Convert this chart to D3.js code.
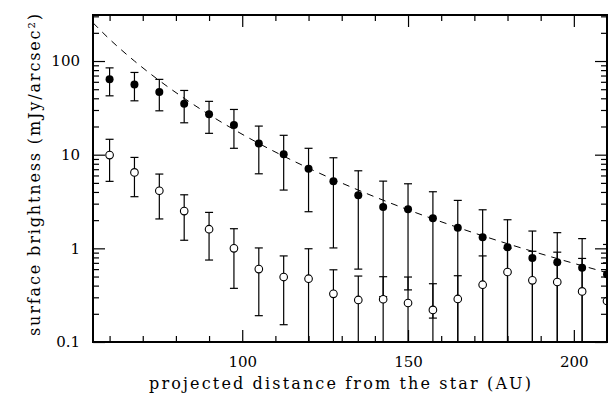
<!DOCTYPE html>
<html>
<head>
<meta charset="utf-8">
<script src="https://cdn.jsdelivr.net/npm/d3@7"></script>
<style>
html,body{margin:0;padding:0;background:#fff;}
svg{display:block;}
</style>
</head>
<body>
<script>
// ---- data ----
const distance = [60, 67.5, 75, 82.5, 90, 97.5, 105, 112.5, 120, 127.5, 135, 142.5, 150, 157.5, 165, 172.5, 180, 187.5, 195, 202.5, 210];

const filledVal = [64, 56, 46.6, 34.9, 27.1, 20.8, 13.2, 10.1, 7.08, 5.19, 3.68, 2.76, 2.62, 2.09, 1.66, 1.31, 1.03, 0.79, 0.71, 0.62, 0.53];
const filledHi  = [84.5, 75.5, 63.7, 48.5, 37.1, 30.4, 20.2, 16.1, 11.7, 9.27, 6.73, 5.22, 4.89, 4.02, 3.25, 2.58, 2.02, 1.53, 1.47, 1.27, 1.1];
const filledLo  = [42.5, 37.6, 29.4, 21.9, 16.9, 11.7, 6.25, 4.19, 2.46, 1.01, 0.6, 0.305, 0.36, 0.18, 0.07, 0.04, 0.04, 0.05, 0.02, 0.02, 0.02];

const hollowVal = [9.9, 6.47, 4.12, 2.5, 1.6, 1.0, 0.6, 0.494, 0.474, 0.327, 0.281, 0.286, 0.261, 0.22, 0.288, 0.409, 0.559, 0.455, 0.437, 0.347, 0.274];
const hollowHi  = [14.6, 9.35, 6.21, 3.73, 2.42, 1.62, 1.01, 0.83, 0.99, 0.59, 0.506, 0.498, 0.494, 0.419, 0.51, 0.83, 1.0, 0.93, 0.91, 0.78, 0.7];
const hollowLo  = [5.19, 3.56, 2.06, 1.22, 0.75, 0.374, 0.191, 0.153, 0.02, 0.06, 0.05, 0.07, 0.03, 0.03, 0.06, 0.02, 0.1, 0.02, 0.02, 0.02, 0.02];

// dashed model curve
const modelDist = [55, 60, 67.5, 75, 82.5, 90, 105, 120, 135, 150, 165, 180, 195, 210];
const modelVal  = [256, 171, 100, 61.8, 40, 26.8, 13.2, 7.18, 4.19, 2.58, 1.67, 1.12, 0.777, 0.55];

const xMinorTicks = [60, 70, 80, 90, 110, 120, 130, 140, 160, 170, 180, 190];
const xMajorTicks = [100, 150, 200];
const yMajorTicks = [0.1, 1, 10, 100];
const yMajorLabels = ["0.1", "1", "10", "100"];
const xTitle = "projected distance from the star (AU)";
const yTitle = "surface brightness (mJy/arcsec\u00B2)";

// ---- layout ----
const W = 614, H = 399;
const L = 93, R = 607, T = 15, B = 342;
const FONT = "'DejaVu Serif', serif";

const svg = d3.select("body").append("svg").attr("width", W).attr("height", H);

const x = d3.scaleLinear().domain([55, 210]).range([L, R]);
const y = d3.scaleLog().domain([0.1, 310]).range([B, T]);

const yMinorTicks = [];
[0.1, 1, 10, 100].forEach(d => { for (let k = 2; k <= 9; k++) { const v = d * k; if (v <= 310) yMinorTicks.push(v); } });

svg.append("defs").append("clipPath").attr("id", "clip")
  .append("rect").attr("x", L).attr("y", T).attr("width", R - L).attr("height", B - T);

const plot = svg.append("g").attr("clip-path", "url(#clip)");

// dashed model line
const model = modelDist.map((d, i) => [d, modelVal[i]]);
plot.append("path")
  .attr("d", d3.line().x(d => x(d[0])).y(d => y(d[1])).curve(d3.curveMonotoneX)(model))
  .attr("fill", "none").attr("stroke", "#000").attr("stroke-width", 1)
  .attr("stroke-dasharray", "7,6");

const yMin = 0.1;
function errorBars(vals, his, los) {
  const g = plot.append("g").attr("stroke", "#000").attr("stroke-width", 1.2);
  distance.forEach((d, i) => {
    const cx = x(d);
    const lo = Math.max(los[i], yMin * 0.5);
    g.append("line").attr("x1", cx).attr("x2", cx).attr("y1", y(his[i])).attr("y2", y(lo));
    g.append("line").attr("x1", cx - 4).attr("x2", cx + 4).attr("y1", y(his[i])).attr("y2", y(his[i]));
    if (los[i] > yMin) {
      g.append("line").attr("x1", cx - 4).attr("x2", cx + 4).attr("y1", y(los[i])).attr("y2", y(los[i]));
    }
  });
}
errorBars(hollowVal, hollowHi, hollowLo);
errorBars(filledVal, filledHi, filledLo);

plot.append("g").selectAll("circle").data(distance).join("circle")
  .attr("cx", d => x(d)).attr("cy", (d, i) => y(hollowVal[i])).attr("r", 3.8)
  .attr("fill", "#fff").attr("stroke", "#000").attr("stroke-width", 1.1);

plot.append("g").selectAll("circle").data(distance).join("circle")
  .attr("cx", d => x(d)).attr("cy", (d, i) => y(filledVal[i])).attr("r", 4)
  .attr("fill", "#000");

// ---- axes (ticks inward on all four sides) ----
function styleAxis(g) {
  g.select(".domain").remove();
  g.selectAll(".tick line").attr("stroke", "#000").attr("stroke-width", 1.2);
  g.selectAll("text").attr("font-family", FONT).attr("font-size", 15).attr("fill", "#000");
}
svg.append("g").attr("transform", `translate(0,${B})`)
  .call(d3.axisBottom(x).tickValues(xMinorTicks).tickSize(-6).tickFormat("")).call(styleAxis);
svg.append("g").attr("transform", `translate(0,${B})`)
  .call(d3.axisBottom(x).tickValues(xMajorTicks).tickSize(-12).tickPadding(14).tickFormat(d3.format("d"))).call(styleAxis);
svg.append("g").attr("transform", `translate(0,${T})`)
  .call(d3.axisTop(x).tickValues(xMinorTicks).tickSize(-6).tickFormat("")).call(styleAxis);
svg.append("g").attr("transform", `translate(0,${T})`)
  .call(d3.axisTop(x).tickValues(xMajorTicks).tickSize(-12).tickFormat("")).call(styleAxis);

svg.append("g").attr("transform", `translate(${L},0)`)
  .call(d3.axisLeft(y).tickValues(yMinorTicks).tickSize(-6).tickFormat("")).call(styleAxis);
svg.append("g").attr("transform", `translate(${L},0)`)
  .call(d3.axisLeft(y).tickValues(yMajorTicks).tickSize(-12).tickPadding(13)
    .tickFormat((d, i) => yMajorLabels[i])).call(styleAxis);
svg.append("g").attr("transform", `translate(${R},0)`)
  .call(d3.axisRight(y).tickValues(yMinorTicks).tickSize(-6).tickFormat("")).call(styleAxis);
svg.append("g").attr("transform", `translate(${R},0)`)
  .call(d3.axisRight(y).tickValues(yMajorTicks).tickSize(-12).tickFormat("")).call(styleAxis);

// frame
svg.append("rect").attr("x", L).attr("y", T).attr("width", R - L).attr("height", B - T)
  .attr("fill", "none").attr("stroke", "#000").attr("stroke-width", 2);

// titles
svg.append("text").attr("x", 340).attr("y", 389)
  .attr("text-anchor", "middle").attr("font-family", FONT).attr("font-size", 16)
  .attr("textLength", 382).attr("lengthAdjust", "spacing")
  .text(xTitle);
svg.append("text").attr("transform", `translate(40,175) rotate(-90)`)
  .attr("text-anchor", "middle").attr("font-family", FONT).attr("font-size", 16)
  .attr("textLength", 322).attr("lengthAdjust", "spacing")
  .text(yTitle);
</script>
</body>
</html>
